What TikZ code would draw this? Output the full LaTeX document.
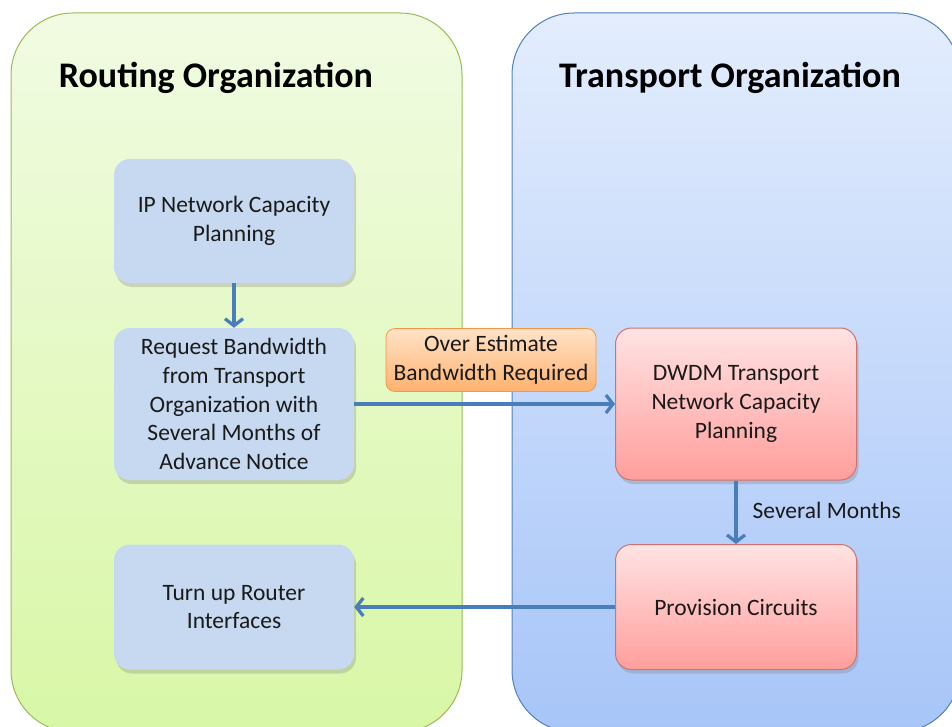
\documentclass[tikz,border=0pt]{standalone}
\usepackage{fontspec}
\setmainfont{Carlito}
\usetikzlibrary{arrows.meta,shadows}
\definecolor{gTop}{HTML}{F1FBE2}
\definecolor{gBot}{HTML}{D8F7A6}
\definecolor{gLine}{HTML}{9BBB59}
\definecolor{bTop}{HTML}{E3EDFD}
\definecolor{bBot}{HTML}{A7C5F8}
\definecolor{bLine}{HTML}{4F81BD}
\definecolor{boxBlue}{HTML}{C6D9F0}
\definecolor{rTop}{HTML}{FFE3E3}
\definecolor{rBot}{HTML}{FF9E9C}
\definecolor{rLine}{HTML}{C0504D}
\definecolor{oTop}{HTML}{FFE3C8}
\definecolor{oBot}{HTML}{FFB26E}
\definecolor{oLine}{HTML}{F79646}
\definecolor{arr}{HTML}{4A7EBB}
\definecolor{txt}{HTML}{1A1A1A}
\begin{document}
\begin{tikzpicture}[x=1pt,y=-1pt,
  panelG/.style={draw=gLine, line width=1pt, rounded corners=62pt, top color=gTop, bottom color=gBot},
  panelB/.style={draw=bLine, line width=1pt, rounded corners=62pt, top color=bTop, bottom color=bBot},
  title/.style={font=\fontsize{36}{40}\selectfont\bfseries, text=black},
  boxtext/.style={align=center, text=txt, font=\fontsize{23.5}{28.8}\selectfont, inner sep=0pt},
  shad/.style={drop shadow={opacity=0.3, shadow xshift=2pt, shadow yshift=-4pt}},
  bluebox/.style={boxtext, shad, rounded corners=16pt, fill=boxBlue, minimum width=240pt},
  redbox/.style={boxtext, shad, rounded corners=16pt, draw=rLine!80, line width=1pt, top color=rTop, bottom color=rBot, minimum width=241pt},
  orbox/.style={boxtext, rounded corners=9pt, draw=oLine, line width=0.8pt, top color=oTop, bottom color=oBot, minimum width=210pt, minimum height=63pt},
  flow/.style={draw=arr, line width=3.3pt, -{Straight Barb[length=7pt,width=18pt]}}
]
\useasboundingbox (0,0) rectangle (952,727);
\begin{scope}
\clip (0,0) rectangle (952,727);
\path[panelG] (11,13) rectangle (462,732);
\path[panelB] (512,13) rectangle (960,732);
\end{scope}

\node[title] (tR) at (216,78) {Routing Organization};
\node[title] (tT) at (730,78) {Transport Organization};

\node[bluebox, minimum height=124pt] (ip) at (234,221) {IP Network Capacity\\Planning};
\node[bluebox, minimum height=152pt] (req) at (234,404) {Request Bandwidth\\from Transport\\Organization with\\Several Months of\\Advance Notice};
\node[bluebox, minimum height=125pt] (turn) at (234,607) {Turn up Router\\Interfaces};

\node[redbox, minimum height=152pt] (dwdm) at (736,404) {DWDM Transport\\Network Capacity\\Planning};
\node[redbox, minimum height=125pt] (prov) at (736,607) {Provision Circuits};

\node[orbox] (over) at (491,360) {Over Estimate\\Bandwidth Required};

\draw[flow] (ip) -- (req);
\draw[flow] (req) -- (dwdm);
\draw[flow] (dwdm) -- node[boxtext, anchor=west, xshift=15pt, yshift=2pt] (sev) {Several Months} (prov);
\draw[flow] (prov) -- (turn);
\end{tikzpicture}
\end{document}
